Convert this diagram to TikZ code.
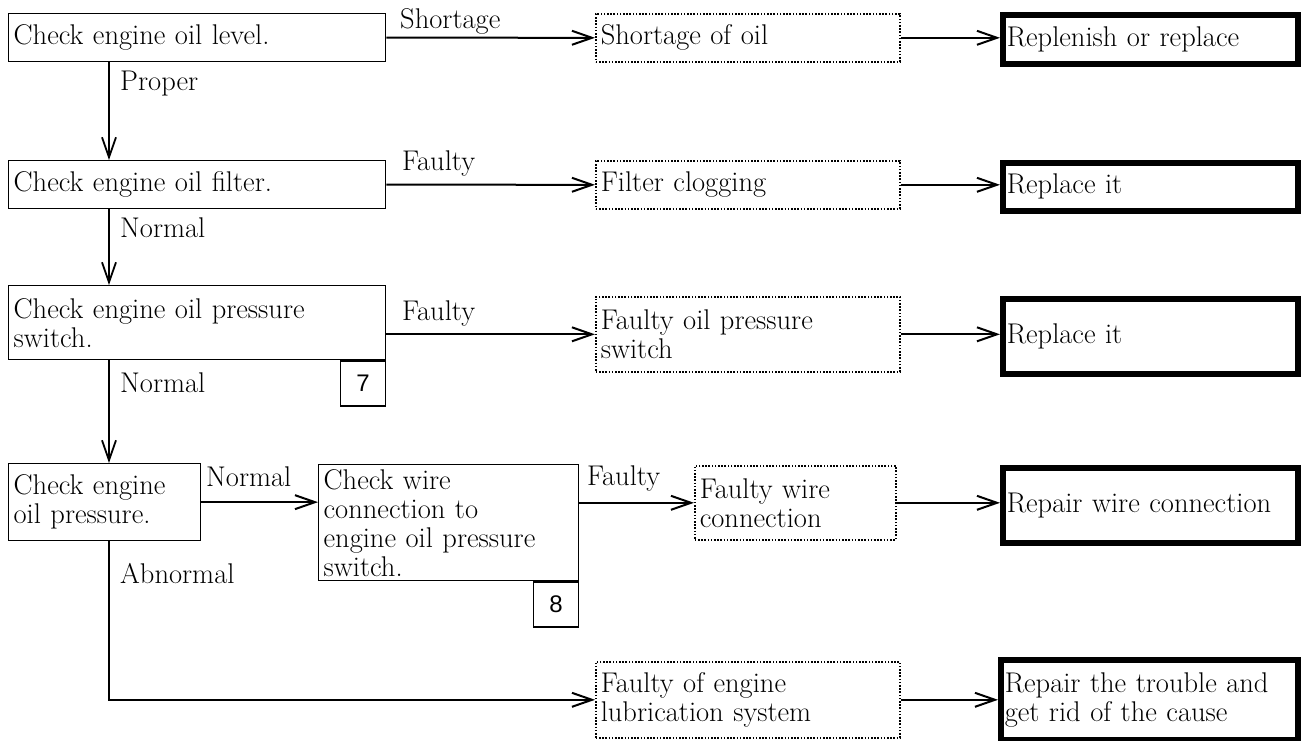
\documentclass[tikz,border=0pt]{standalone}
\usepackage{fontspec}
\newfontfamily\numfont{Liberation Sans}
\usetikzlibrary{arrows.meta}
\newcommand\txt{\fontsize{28.5}{29}\selectfont}
\begin{document}
\begin{tikzpicture}[x=1pt,y=-1pt,
  base/.style={rectangle, anchor=north west, inner xsep=5pt, inner ysep=0pt, align=left, font=\txt},
  check/.style={base, draw, line width=1.3pt},
  cause/.style={base, draw, line width=1.6pt, dash pattern=on 1.6pt off 1.6pt},
  fix/.style={base, draw, line width=5.5pt, inner xsep=4pt},
  refbox/.style={draw, line width=1.3pt, anchor=north east, minimum width=45pt, minimum height=45pt, inner sep=0pt, font=\numfont\fontsize{24}{24}\selectfont},
  lbl/.style={anchor=base west, font=\txt, inner sep=0pt},
  flow/.style={line width=2pt, -{Straight Barb[length=20pt,width=14pt]}},
  spine/.style={line width=1.8pt}
]
\useasboundingbox (0,0) rectangle (1302,740);

% row 1: oil level
\node[check, text width=367pt, minimum height=48pt] (c1) at (8,13) {Check engine oil level.};
\node[cause, text width=294pt, minimum height=48pt] (d1) at (595,13) {Shortage of oil};
\node[fix, text width=287pt, minimum height=49pt] (r1) at (1000,12) {Replenish or replace};

% row 2: oil filter
\node[check, text width=367pt, minimum height=48pt] (c2) at (8,160) {Check engine oil filter.};
\node[cause, text width=294pt, minimum height=48pt] (d2) at (595,160) {Filter clogging};
\node[fix, text width=287pt, minimum height=48pt] (r2) at (1000,160) {Replace it};

% row 3: oil pressure switch
\node[check, text width=367pt, minimum height=74pt] (c3) at (8,285) {Check engine oil pressure\\switch.};
\node[refbox] (n7) at (c3.south east) {7};
\node[cause, text width=294pt, minimum height=75pt] (d3) at (595,296) {Faulty oil pressure\\switch};
\node[fix, text width=287pt, minimum height=75pt] (r3) at (1000,296) {Replace it};

% row 4: oil pressure and wiring
\node[check, text width=182pt, minimum height=77pt] (c4) at (8,463) {Check engine\\oil pressure.};
\node[check, text width=250pt, minimum height=116pt] (c5) at (318,464) {Check wire\\connection to\\engine oil pressure\\switch.};
\node[refbox] (n8) at (c5.south east) {8};
\node[cause, text width=191pt, minimum height=74pt] (d4) at (694,465) {Faulty wire\\connection};
\node[fix, text width=287pt, minimum height=75pt] (r4) at (1000,465) {Repair wire connection};

% row 5: lubrication system
\node[cause, text width=294pt, minimum height=76pt] (d5) at (595,661) {Faulty of engine\\lubrication system};
\node[fix, text width=289pt, minimum height=80pt] (r5) at (998,657) {Repair the trouble and\\get rid of the cause};

% main vertical line
\coordinate (sp) at (109,0);

% horizontal connectors
\draw[flow] (c1.east) -- (d1.west);
\draw[flow] (d1.east) -- (d1.east -| r1.west);
\draw[flow] (c2.east) -- (d2.west);
\draw[flow] (d2.east) -- (d2.east -| r2.west);
\draw[flow] (c3.east |- d3.west) -- (d3.west);
\draw[flow] (d3.east) -- (d3.east -| r3.west);
\draw[flow] (c4.east) -- (c5.west |- c4.east);
\draw[flow] (c5.east |- d4.west) -- (d4.west);
\draw[flow] (d4.east) -- (d4.east -| r4.west);
\draw[flow] (d5.east) -- (d5.east -| r5.west);

% vertical connectors
\draw[flow, spine] (c1.south -| sp) -- (c2.north -| sp);
\draw[flow, spine] (c2.south -| sp) -- (c3.north -| sp);
\draw[flow, spine] (c3.south -| sp) -- (c4.north -| sp);
\draw[flow] (c4.south -| sp) -- (sp |- d5.west) -- (d5.west);

% branch labels
\node[lbl] (l1) at (400,28) {Shortage};
\node[lbl] (l2) at (120,90) {Proper};
\node[lbl] (l3) at (402,170) {Faulty};
\node[lbl] (l4) at (120,237) {Normal};
\node[lbl] (l5) at (402,320) {Faulty};
\node[lbl] (l6) at (120,392) {Normal};
\node[lbl] (l7) at (206,486) {Normal};
\node[lbl] (l8) at (587,485) {Faulty};
\node[lbl] (l9) at (120,583) {Abnormal};
\end{tikzpicture}
\end{document}
